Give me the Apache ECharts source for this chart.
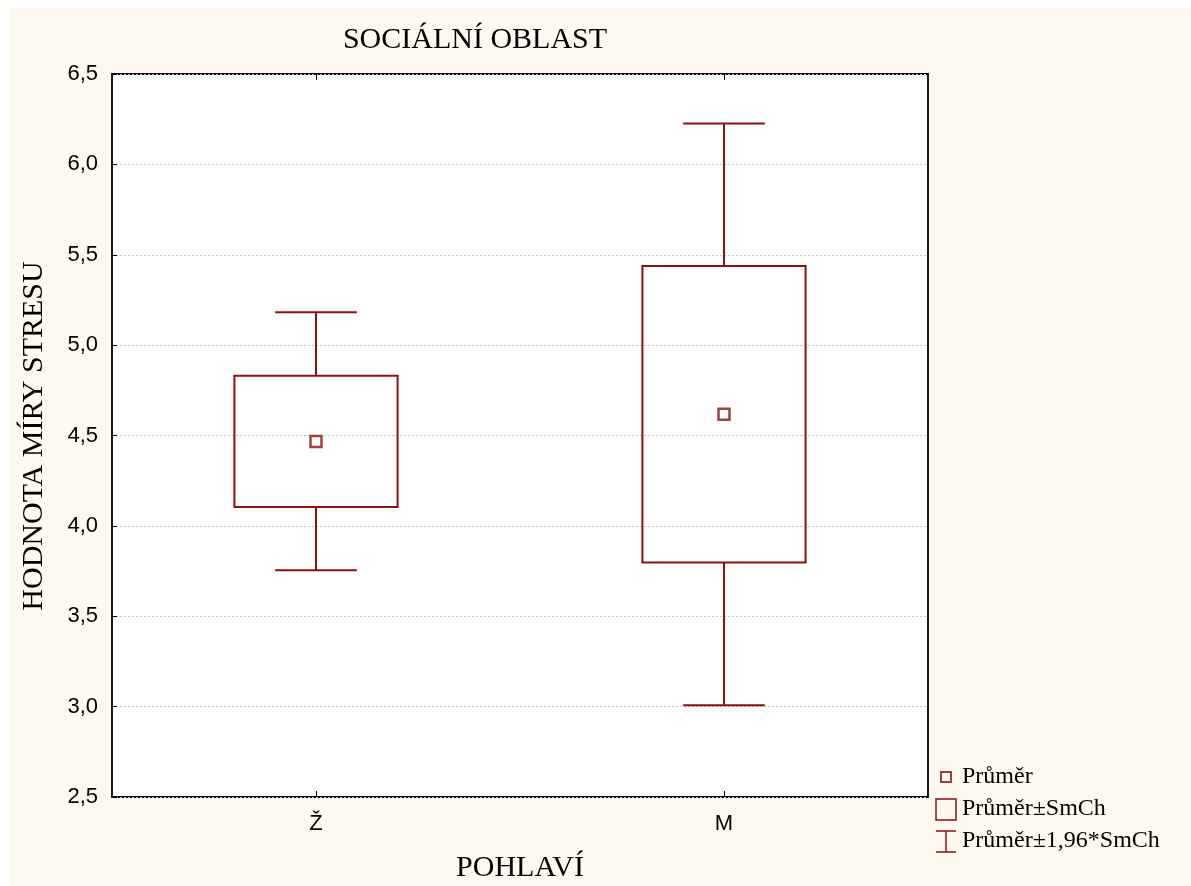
<!DOCTYPE html>
<html>
<head>
<meta charset="utf-8">
<script src="https://cdn.jsdelivr.net/npm/echarts@6/dist/echarts.min.js"></script>
<style>
html,body{margin:0;padding:0;background:#fff;}
#chart{width:1191px;height:886px;}
</style>
</head>
<body>
<div id="chart"></div>
<script>
const categories = ['Ž', 'M'];
const means = [4.467, 4.617];
const seLow = [4.104, 3.798];
const seHigh = [4.831, 5.438];
const ciLow = [3.754, 3.007];
const ciHigh = [5.182, 6.226];
const yMin = 2.5, yMax = 6.5, yStep = 0.5;
const titleText = 'SOCIÁLNÍ OBLAST';
const xName = 'POHLAVÍ';
const yName = 'HODNOTA MÍRY STRESU';
const legendNames = ['Průměr', 'Průměr±SmCh', 'Průměr±1,96*SmCh'];

const C = '#8b1010';
const SERIF = '"Liberation Serif","Times New Roman",serif';
const SANS = '"Liberation Sans",Arial,sans-serif';

const chart = echarts.init(document.getElementById('chart'), null, {renderer: 'canvas'});

const boxData = categories.map((c, i) => [i, seLow[i], seHigh[i]]);
const whiskerData = categories.map((c, i) => [i, ciLow[i], seLow[i], seHigh[i], ciHigh[i]]);
const meanData = categories.map((c, i) => [i, means[i]]);

const option = {
  backgroundColor: '#ffffff',
  animation: false,
  graphic: [
    {type: 'rect', left: 9, top: 8, z: -100, silent: true,
     shape: {width: 1182, height: 878}, style: {fill: '#fef9ef'}},
    {type: 'text', x: 475, y: 40, z: 10,
     style: {text: titleText, font: '30px ' + SERIF, fill: '#000', align: 'center', verticalAlign: 'middle'}},
    {type: 'text', x: 520, y: 868, z: 10,
     style: {text: xName, font: '30px ' + SERIF, fill: '#000', align: 'center', verticalAlign: 'middle'}},
    {type: 'text', x: 34, y: 436, rotation: Math.PI / 2, z: 10,
     style: {text: yName, font: '30px ' + SERIF, fill: '#000', align: 'center', verticalAlign: 'middle'}}
  ],
  legend: {
    orient: 'vertical',
    left: 934,
    top: 765,
    padding: 0,
    itemWidth: 22,
    itemHeight: 22,
    itemGap: 8,
    textStyle: {fontFamily: SERIF, fontSize: 24, color: '#000'},
    data: [
      {name: legendNames[0], icon: 'path://M0,0L0,0M22,22L22,22M6,6L16,6L16,16L6,16Z',
       itemStyle: {color: '#ffffff', borderColor: C, borderWidth: 2}},
      {name: legendNames[1], icon: 'path://M0,0L0,0M22,22L22,22M1,1L21,1L21,22L1,22Z',
       itemStyle: {color: 'rgba(0,0,0,0)', borderColor: C, borderWidth: 1.5}},
      {name: legendNames[2], icon: 'path://M0,0L0,0M22,22L22,22M1,1L21,1M11,1L11,22M1,22L21,22',
       itemStyle: {color: 'rgba(0,0,0,0)', borderColor: C, borderWidth: 1.5}}
    ]
  },
  grid: {
    left: 112, top: 74, right: 263, bottom: 89,
    show: true, backgroundColor: '#ffffff', borderColor: '#000', borderWidth: 1.8
  },
  xAxis: [
    {
      type: 'category', data: categories, boundaryGap: true, position: 'bottom',
      axisLine: {show: false},
      axisTick: {show: true, inside: true, alignWithLabel: true, length: 6, lineStyle: {color: '#000', width: 1}},
      axisLabel: {fontFamily: SANS, fontSize: 22, color: '#000', margin: 16},
      splitLine: {show: false}
    },
    {
      type: 'category', data: categories, boundaryGap: true, position: 'top',
      axisLine: {show: false},
      axisTick: {show: true, inside: true, alignWithLabel: true, length: 6, lineStyle: {color: '#000', width: 1}},
      axisLabel: {show: false},
      splitLine: {show: false}
    }
  ],
  yAxis: {
    type: 'value', min: yMin, max: yMax, interval: yStep,
    axisLine: {show: false},
    axisTick: {show: true, inside: true, length: 5, lineStyle: {color: '#000', width: 1}},
    axisLabel: {fontFamily: SANS, fontSize: 22, color: '#000', margin: 14,
      formatter: v => v.toFixed(1).replace('.', ',')},
    splitLine: {show: true, lineStyle: {color: '#c4c4c4', type: [2, 2], width: 1}}
  },
  series: [
    {
      name: legendNames[2], type: 'custom', xAxisIndex: 0, z: 2,
      data: whiskerData,
      encode: {x: 0, y: [1, 2, 3, 4]},
      renderItem: function (params, api) {
        const i = api.value(0);
        const pLo = api.coord([i, api.value(1)]);
        const pBoxLo = api.coord([i, api.value(2)]);
        const pBoxHi = api.coord([i, api.value(3)]);
        const pHi = api.coord([i, api.value(4)]);
        const band = api.size([1, 0])[0];
        const cap = band * 0.2 / 2;
        const st = {stroke: C, lineWidth: 2, fill: null};
        return {
          type: 'group',
          children: [
            {type: 'line', shape: {x1: pHi[0], y1: pHi[1], x2: pBoxHi[0], y2: pBoxHi[1]}, style: st},
            {type: 'line', shape: {x1: pHi[0] - cap, y1: pHi[1], x2: pHi[0] + cap, y2: pHi[1]}, style: st},
            {type: 'line', shape: {x1: pLo[0], y1: pLo[1], x2: pBoxLo[0], y2: pBoxLo[1]}, style: st},
            {type: 'line', shape: {x1: pLo[0] - cap, y1: pLo[1], x2: pLo[0] + cap, y2: pLo[1]}, style: st}
          ]
        };
      }
    },
    {
      name: legendNames[1], type: 'custom', xAxisIndex: 0, z: 3,
      data: boxData,
      encode: {x: 0, y: [1, 2]},
      renderItem: function (params, api) {
        const i = api.value(0);
        const pLo = api.coord([i, api.value(1)]);
        const pHi = api.coord([i, api.value(2)]);
        const band = api.size([1, 0])[0];
        const w = band * 0.4;
        return {
          type: 'rect',
          shape: {x: pLo[0] - w / 2, y: pHi[1], width: w, height: pLo[1] - pHi[1]},
          style: {stroke: C, lineWidth: 2, fill: 'rgba(0,0,0,0)'}
        };
      }
    },
    {
      name: legendNames[0], type: 'scatter', xAxisIndex: 0, z: 4,
      data: meanData,
      symbol: 'rect', symbolSize: 11,
      itemStyle: {color: '#ffffff', borderColor: C, borderWidth: 2.5}
    }
  ]
};
chart.setOption(option);
</script>
</body>
</html>
